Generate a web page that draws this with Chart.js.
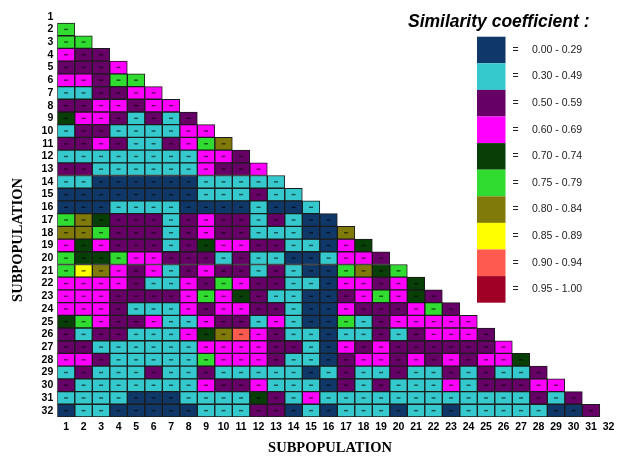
<!DOCTYPE html>
<html><head><meta charset="utf-8">
<script src="https://cdn.jsdelivr.net/npm/chart.js@4/dist/chart.umd.min.js"></script>
<style>html,body{margin:0;padding:0;background:#fff}canvas{display:block}</style>
</head><body>
<canvas id="c" width="626" height="462"></canvas>
<script>
// Subpopulation labels (rows top->bottom, columns left->right)
const categories = ['1','2','3','4','5','6','7','8','9','10','11','12','13','14','15','16',
  '17','18','19','20','21','22','23','24','25','26','27','28','29','30','31','32'];

// Similarity classes (legend order)
const classRanges = ['0.00 - 0.29','0.30 - 0.49','0.50 - 0.59','0.60 - 0.69','0.70 - 0.74',
  '0.75 - 0.79','0.80 - 0.84','0.85 - 0.89','0.90 - 0.94','0.95 - 1.00'];
const classColors = ['#0f3869','#35c8cc','#660066','#ff00ff','#073f07',
  '#2fdc2f','#807a0a','#ffff00','#ff5a50','#a00025'];
const legendTitle = 'Similarity coefficient :';
const axisTitle = 'SUBPOPULATION';

// Lower-triangular matrix: class index for row i, columns 1..i-1
const similarityRows = [
  [],
  [5],
  [5,5],
  [3,2,2],
  [2,2,2,3],
  [3,3,2,5,5],
  [1,1,2,2,3,3],
  [2,2,3,3,2,3,3],
  [4,3,3,2,1,2,1,2],
  [1,2,2,1,1,1,1,3,3],
  [2,2,3,2,1,1,2,3,5,6],
  [1,1,1,1,1,1,1,1,3,3,2],
  [2,2,1,1,1,1,1,1,3,2,2,3],
  [1,1,0,0,0,0,0,0,1,1,1,1,1],
  [0,0,0,0,0,0,0,0,1,1,1,2,1,1],
  [0,0,0,1,1,1,1,0,0,0,0,1,0,0,1],
  [5,6,4,2,2,2,1,2,3,2,2,1,2,1,0,0],
  [6,6,5,2,2,2,1,2,3,2,2,1,1,1,0,0,6],
  [3,4,3,2,2,2,1,2,4,3,3,2,2,1,1,0,3,4],
  [5,4,4,5,3,3,2,2,2,1,2,1,1,0,0,1,3,3,2],
  [5,7,6,3,2,3,1,2,3,2,2,1,2,1,0,0,5,6,4,5],
  [3,3,3,3,2,1,1,3,2,5,3,2,2,1,1,0,3,3,2,3,4],
  [3,3,3,2,2,2,2,3,5,3,4,2,1,1,0,0,2,3,5,3,4,2],
  [3,3,3,2,1,1,1,3,2,3,3,2,2,1,0,0,3,2,2,2,3,5,2],
  [4,5,3,2,2,3,1,1,3,2,2,1,3,1,0,0,5,1,2,3,3,3,3,3],
  [2,1,2,2,1,1,1,3,4,6,8,3,2,1,1,0,1,1,2,1,2,3,3,3,2],
  [2,2,1,1,1,1,1,1,3,3,3,3,2,2,1,0,3,2,3,2,2,2,2,2,2,3],
  [3,3,2,1,1,1,1,1,5,3,3,3,2,1,1,0,2,3,3,2,3,2,3,2,3,3,4],
  [1,2,1,1,1,2,1,1,2,1,1,1,1,1,0,1,2,1,1,2,1,1,2,1,2,1,1,2],
  [2,1,1,1,1,1,1,1,3,2,2,3,1,1,1,0,2,1,2,1,1,1,3,1,2,2,2,3,3],
  [1,1,1,1,0,0,0,1,1,1,1,4,2,1,3,1,1,1,1,1,1,1,1,1,1,1,1,2,1,2],
  [0,1,1,0,0,0,0,0,1,1,1,2,2,0,1,0,1,1,1,0,1,1,0,1,1,1,1,1,0,0,2]
];

const datasets = classColors.map((color, k) => {
  const data = [];
  similarityRows.forEach((row, r) => row.forEach((cls, c) => {
    if (cls === k) data.push({x: categories[c], y: [r + 0.5, r + 1.5]});
  }));
  return {
    label: classRanges[k], data,
    backgroundColor: color, borderColor: '#1b1b1b', borderWidth: 1,
    borderSkipped: false, grouped: false, barPercentage: 1, categoryPercentage: 1
  };
});

const cellDash = {
  id: 'cellDash',
  afterDatasetsDraw(chart) {
    const ctx = chart.ctx;
    ctx.save();
    ctx.fillStyle = 'rgba(0,0,0,0.6)';
    chart.data.datasets.forEach((ds, i) => {
      chart.getDatasetMeta(i).data.forEach(el => {
        const cy = (el.y + el.base) / 2;
        ctx.fillRect(el.x - 2, cy - 0.7, 4, 1.4);
      });
    });
    ctx.restore();
  }
};

const titlesAndLegend = {
  id: 'titlesAndLegend',
  afterDraw(chart) {
    const ctx = chart.ctx;
    ctx.save();
    // axis titles
    ctx.fillStyle = '#000';
    ctx.font = 'bold 14.5px "Liberation Serif", "Times New Roman", serif';
    ctx.textAlign = 'center';
    ctx.textBaseline = 'middle';
    ctx.fillText(axisTitle, 330, 448);
    ctx.save();
    ctx.translate(18, 240);
    ctx.rotate(-Math.PI / 2);
    ctx.fillText(axisTitle, 0, 0);
    ctx.restore();
    // legend
    ctx.font = 'italic bold 17.5px "Liberation Sans", Arial, sans-serif';
    ctx.textBaseline = 'alphabetic';
    ctx.textAlign = 'left';
    ctx.fillText(legendTitle, 408, 27);
    const x0 = 477, w = 28.5, y0 = 36.7, h = 26.6;
    classColors.forEach((col, k) => {
      const y = y0 + k * h;
      ctx.fillStyle = col;
      ctx.fillRect(x0, y, w, h);
      ctx.fillStyle = '#222';
      ctx.font = '10.5px "Liberation Sans Narrow", "Liberation Sans", Arial, sans-serif';
      ctx.textBaseline = 'middle';
      ctx.textAlign = 'center';
      ctx.fillText('=', 515.5, y + h / 2);
      ctx.textAlign = 'left';
      ctx.fillText(classRanges[k], 532, y + h / 2);
    });
    ctx.restore();
  }
};

const tickFont = {family: '"Liberation Sans", Arial, sans-serif', size: 10.5, weight: 'bold'};

new Chart(document.getElementById('c'), {
  type: 'bar',
  data: {labels: categories, datasets},
  options: {
    responsive: false,
    animation: false,
    layout: {padding: {top: 2, right: 8.7, left: 0, bottom: 0}},
    plugins: {legend: {display: false}, tooltip: {enabled: false}},
    scales: {
      x: {
        type: 'category', offset: true,
        grid: {display: false, drawTicks: false}, border: {display: false},
        ticks: {autoSkip: false, maxRotation: 0, minRotation: 0, font: tickFont, color: '#000', padding: 4},
        afterFit: s => { s.height = 45; }
      },
      y: {
        type: 'linear', reverse: true, min: 0.5, max: 32.5,
        afterBuildTicks: s => { s.ticks = categories.map((_, i) => ({value: i + 1})); },
        grid: {display: false, drawTicks: false}, border: {display: false},
        ticks: {autoSkip: false, font: tickFont, color: '#000', padding: 4,
          callback: v => categories[v - 1]},
        afterFit: s => { s.width = 57.3; }
      }
    }
  },
  plugins: [cellDash, titlesAndLegend]
});
</script>
</body></html>
